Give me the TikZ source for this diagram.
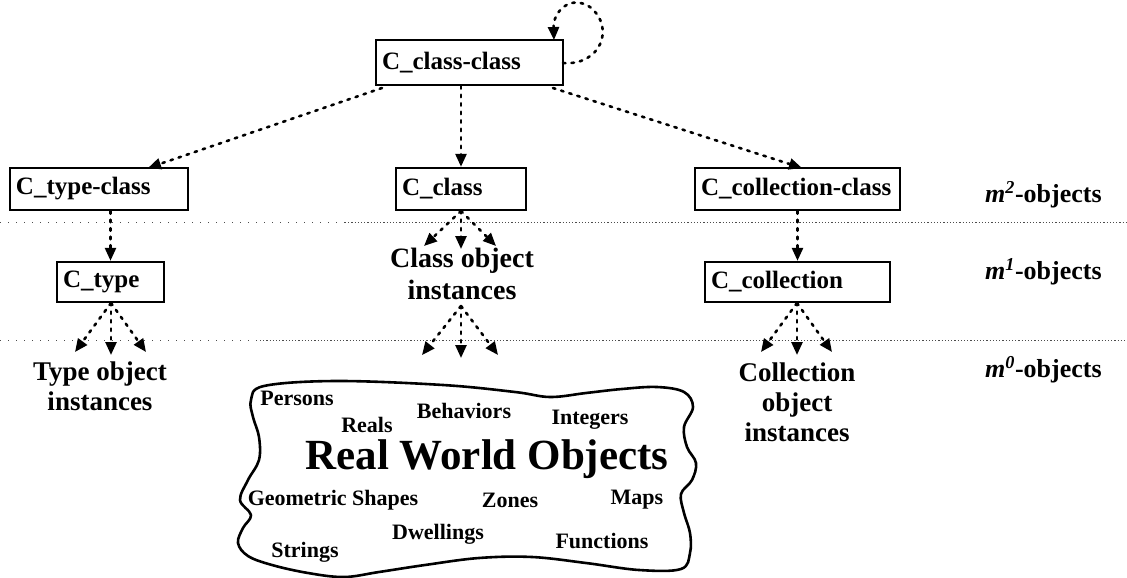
\documentclass[tikz,border=0pt]{standalone}
\usepackage{fontspec}
\setmainfont{Liberation Serif}
\usetikzlibrary{arrows.meta}
\begin{document}
\begin{tikzpicture}[x=1pt,y=-1pt,
  box/.style={draw, line width=2.4pt, minimum height=42pt, inner xsep=6pt, inner ysep=0pt,
              font=\fontsize{25}{30}\selectfont\bfseries, align=left},
  arr/.style={line width=2.6pt, dash pattern=on 2.5pt off 6pt, line cap=round,
              -{Triangle[length=13pt,width=11pt]}},
  sepsparse/.style={line width=1pt, dash pattern=on 1pt off 7pt, black!70},
  sepdense/.style={line width=1pt, dash pattern=on 1.2pt off 2pt, black!70},
  lbl/.style={font=\fontsize{28}{32}\selectfont\bfseries, align=center},
  mlab/.style={font=\fontsize{26}{30}\selectfont\bfseries, anchor=west, inner sep=0pt},
  sm/.style={font=\fontsize{22}{24}\selectfont\bfseries, inner sep=0pt},
]
\useasboundingbox (0,0) rectangle (1127,578);

% separators
\coordinate (a1) at (0,222);
\coordinate (a2) at (345,222);
\coordinate (a3) at (1127,222);
\coordinate (b1) at (0,340);
\coordinate (b2) at (260,340);
\coordinate (b3) at (1127,340);
\draw[sepsparse] (a1) -- (a2);
\draw[sepdense] (a2) -- (a3);
\draw[sepsparse] (b1) -- (b2);
\draw[sepdense] (b2) -- (b3);

% boxes
\node[box, text width=175pt, minimum height=45pt] (cc) at (469.5,62.5) {C\_class-class};
\node[box, text width=166pt] (tc) at (99,189) {C\_type-class};
\node[box, text width=118pt] (cls) at (461,189) {C\_class};
\node[box, text width=193pt] (ccol) at (797.5,189) {C\_collection-class};
\node[box, text width=95pt, minimum height=40pt] (ct) at (110.5,282) {C\_type};
\node[box, text width=173pt, minimum height=40pt] (col) at (797.5,282) {C\_collection};

% level labels
\node[mlab] (m2) at (985,195) {\textit{m}\textsuperscript{\textit{2}}-objects};
\node[mlab] (m1) at (985,272) {\textit{m}\textsuperscript{\textit{1}}-objects};
\node[mlab] (m0) at (985,370) {\textit{m}\textsuperscript{\textit{0}}-objects};

% instance texts
\node[lbl] (clsi) at (462,274) {Class object\\instances};
\node[lbl, font=\fontsize{27}{30}\selectfont\bfseries] (cti) at (100,386) {Type object\\instances};
\node[lbl, font=\fontsize{27}{30}\selectfont\bfseries] (coli) at (797,402) {Collection\\object\\instances};

% self loop
\coordinate (ls) at (563,63);
\coordinate (le) at (554,40);
\draw[arr] (ls) .. controls (600,66) and (616,28) .. (590,7) .. controls (570,-6) and (553,12) .. (le);

% arrows from C_class-class
\coordinate (ccl) at (382,88);
\coordinate (ccr) at (553,88);
\coordinate (tct) at (148,168);
\coordinate (ccolt) at (802,168);
\draw[arr] (ccl) -- (tct);
\draw[arr] (cc.south -| cls.north) -- (cls.north);
\draw[arr] (ccr) -- (ccolt);

% row 2 -> row 3
\draw[arr] (tc.south -| ct.north) -- (ct.north);
\draw[arr] (ccol.south) -- (col.north);

% fans
\coordinate (clsS) at (461,211);
\coordinate (clsL) at (424,246);
\coordinate (clsM) at (461,249);
\coordinate (clsR) at (496,246);
\draw[arr] (clsS) -- (clsL);
\draw[arr] (clsS) -- (clsM);
\draw[arr] (clsS) -- (clsR);

\coordinate (ciS) at (461,306);
\coordinate (ciL) at (422,355);
\coordinate (ciM) at (461,358);
\coordinate (ciR) at (498,355);
\draw[arr] (ciS) -- (ciL);
\draw[arr] (ciS) -- (ciM);
\draw[arr] (ciS) -- (ciR);

\coordinate (ctS) at (111,303);
\coordinate (ctL) at (75,352);
\coordinate (ctM) at (111,355);
\coordinate (ctR) at (146,352);
\draw[arr] (ctS) -- (ctL);
\draw[arr] (ctS) -- (ctM);
\draw[arr] (ctS) -- (ctR);

\coordinate (colS) at (797,303);
\coordinate (colL) at (761,352);
\coordinate (colM) at (797,355);
\coordinate (colR) at (832,352);
\draw[arr] (colS) -- (colL);
\draw[arr] (colS) -- (colM);
\draw[arr] (colS) -- (colR);

% cloud
\draw[line width=2.6pt, line join=round] plot[smooth cycle, tension=0.6] coordinates {
 (264,386) (336,381) (443,385) (515,392) (550,397) (586,393) (622,389) (657,387) (684,392)
 (693,407) (684,427) (687,447) (696,463) (692,480) (681,494) (684,513) (690,533) (690,553) (681,569)
 (639,570) (586,563) (532,557) (479,558) (425,565) (379,572) (344,577) (308,573) (272,565) (248,556)
 (238,543) (243,528) (251,515) (240,500) (248,480) (259,460) (259,437) (253,417) (251,400)};

\node[sm] (t1) at (297,398) {Persons};
\node[sm] (t2) at (367,425) {Reals};
\node[sm] (t3) at (464,411) {Behaviors};
\node[sm] (t4) at (590,420) {Integers};
\node[font=\fontsize{43}{46}\selectfont\bfseries, inner sep=0pt] (t5) at (487,459) {Real World Objects};
\node[sm] (t6) at (333,500) {Geometric Shapes};
\node[sm] (t7) at (510,500) {Zones};
\node[sm] (t8) at (637,500) {Maps};
\node[sm] (t9) at (438,534) {Dwellings};
\node[sm] (t10) at (602,541) {Functions};
\node[sm] (t11) at (305,552) {Strings};
\end{tikzpicture}
\end{document}
